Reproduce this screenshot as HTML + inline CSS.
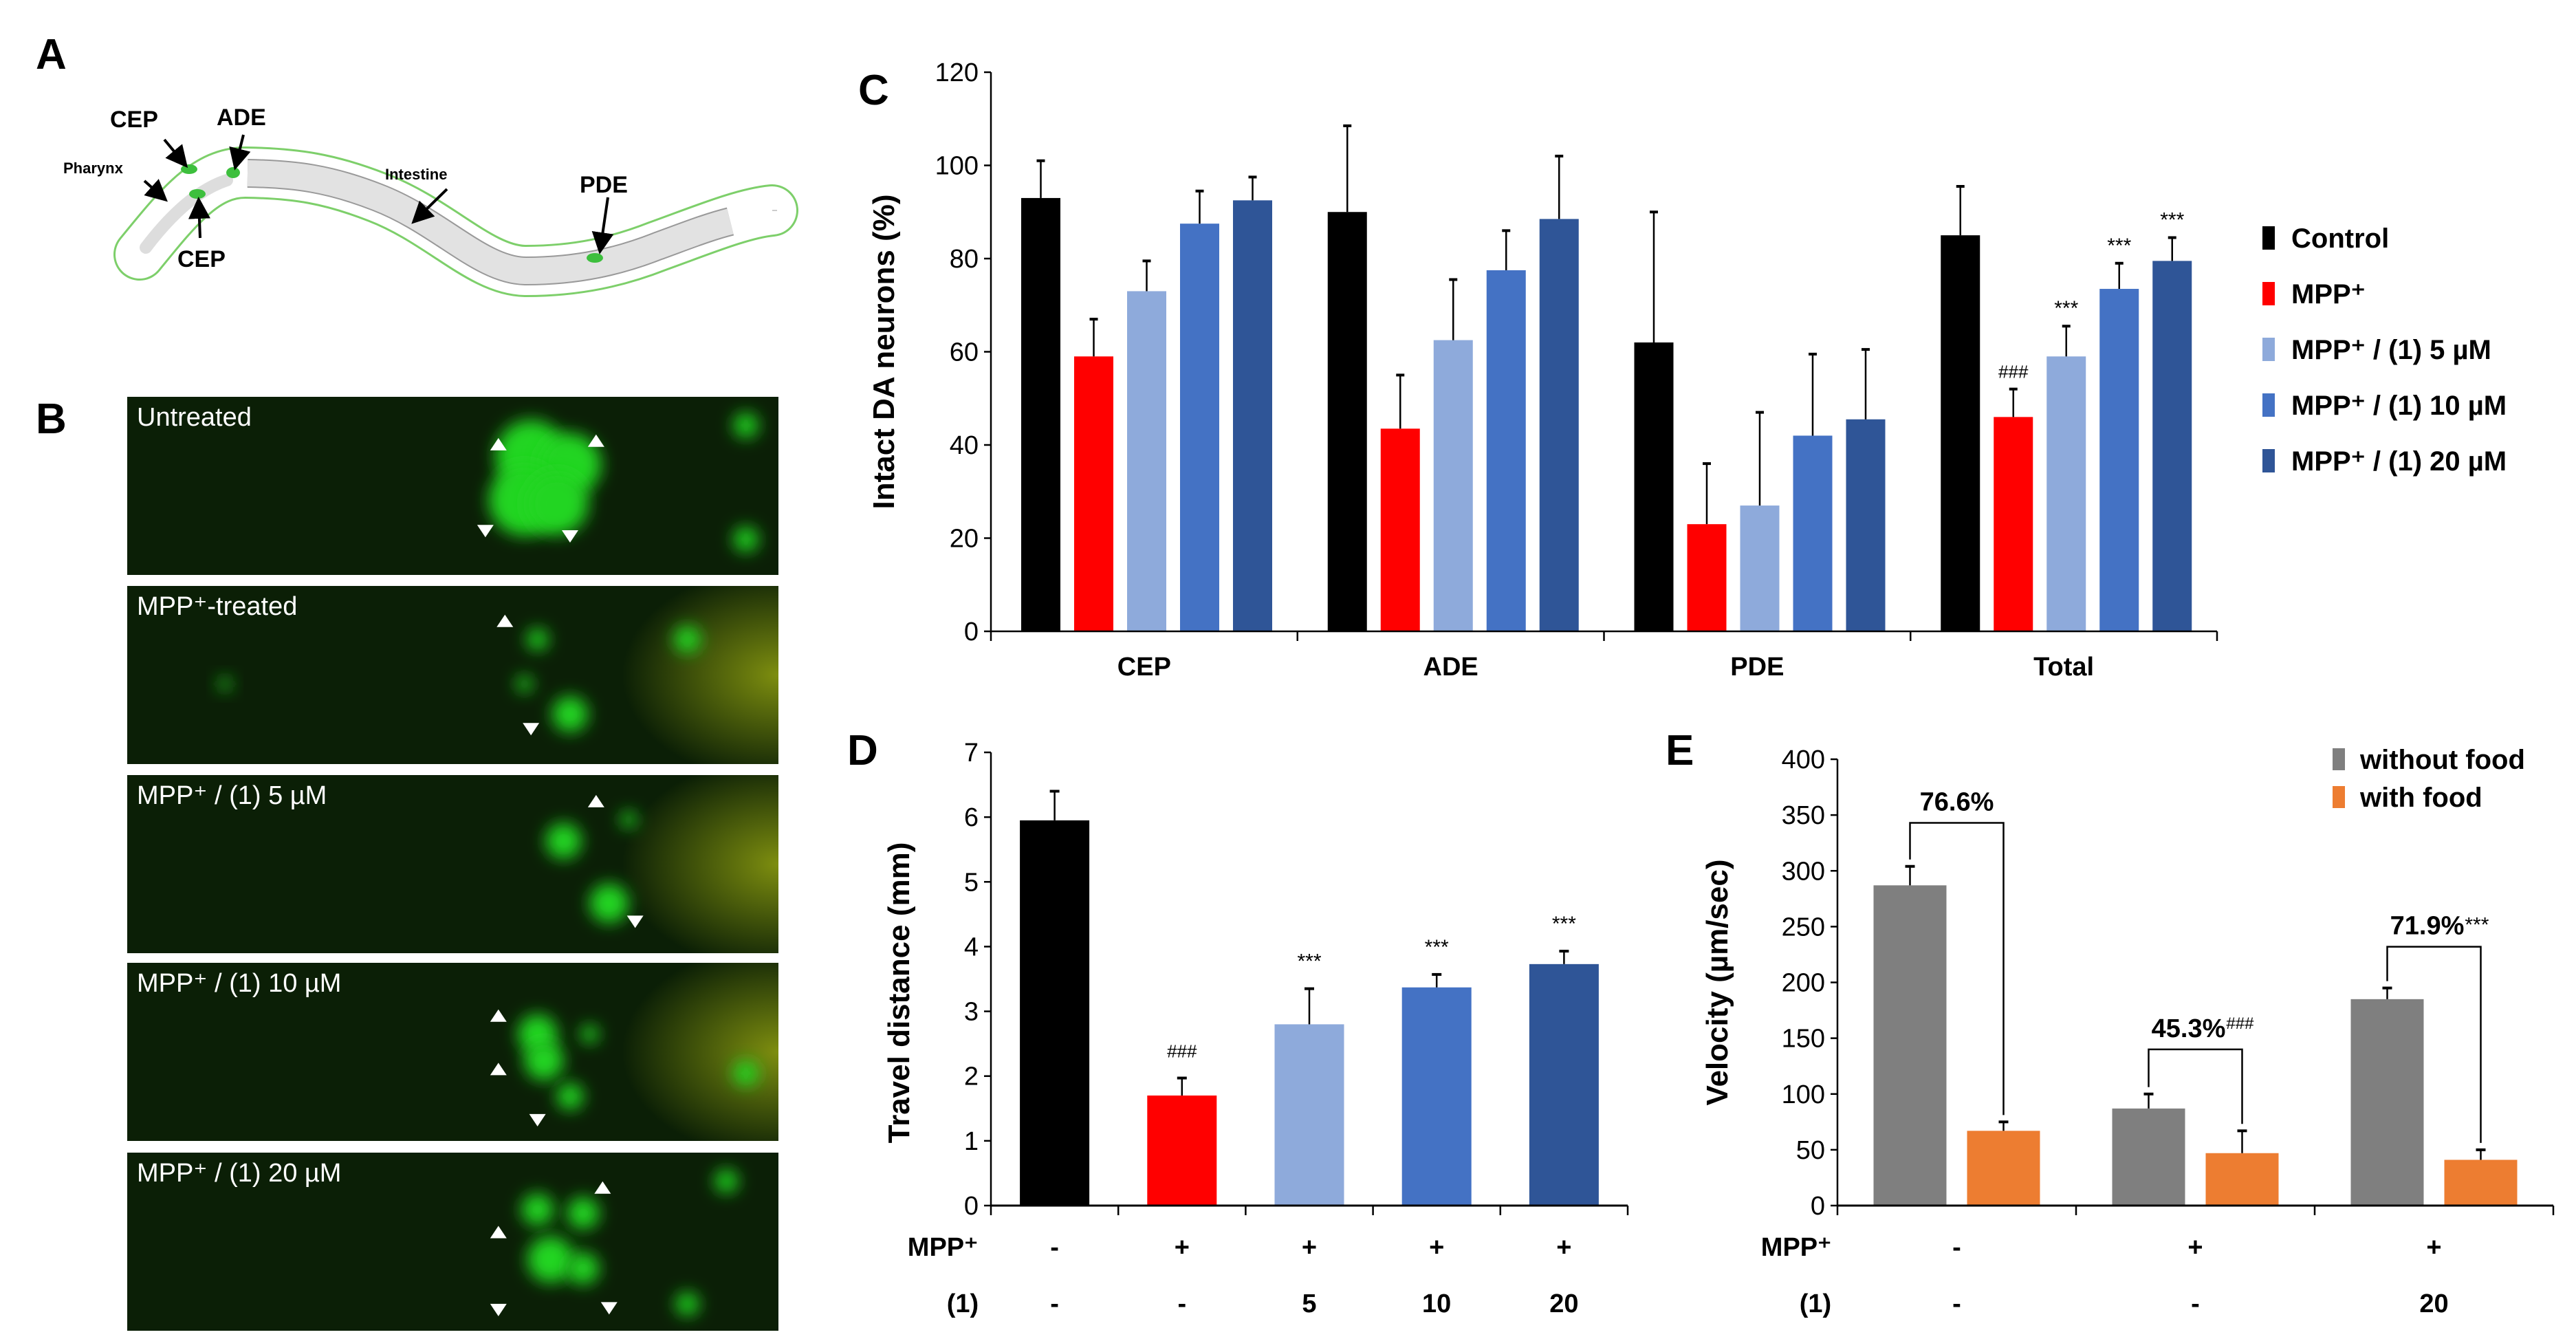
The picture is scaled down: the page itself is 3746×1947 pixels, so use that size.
<!DOCTYPE html>
<html><head><meta charset="utf-8">
<style>
html,body{margin:0;padding:0;background:#fff;}
svg{display:block;}
text{font-family:"Liberation Sans",Arial,sans-serif;}
.nar{font-family:"Liberation Sans Narrow","Liberation Sans",sans-serif;}
</style></head>
<body>
<svg id="fig" width="3746" height="1947" viewBox="0 0 3746 1947" xmlns="http://www.w3.org/2000/svg">
<defs>
<filter id="blur" x="-100%" y="-100%" width="300%" height="300%"><feGaussianBlur stdDeviation="12"/></filter>
<filter id="blur2" x="-50%" y="-50%" width="200%" height="200%"><feGaussianBlur stdDeviation="4"/></filter>
<radialGradient id="yel" cx="1" cy="0.5" r="0.6"><stop offset="0" stop-color="#8a9a10" stop-opacity="0.9"/><stop offset="1" stop-color="#8a9a10" stop-opacity="0"/></radialGradient>
<marker id="ah" markerWidth="8" markerHeight="8" refX="6" refY="4" orient="auto"><path d="M0,0 L8,4 L0,8 z" fill="#000"/></marker>
</defs>

<!-- Panel A -->
<g>
<text x="52" y="100" font-size="62" font-weight="bold">A</text>
<g fill="none">
<path d="M203,370 C260,300 300,250 358,251 C430,252 480,260 549,287 C640,322 700,394 765,394 C840,394 900,380 956,358 C1020,335 1080,310 1123,306" stroke="#7dcf6a" stroke-width="76" stroke-linecap="round"/>
<path d="M203,370 C260,300 300,250 358,251 C430,252 480,260 549,287 C640,322 700,394 765,394 C840,394 900,380 956,358 C1020,335 1080,310 1123,306" stroke="#fff" stroke-width="70" stroke-linecap="round"/>
<path d="M1123,306 L1130,306" stroke="#ccc" stroke-width="2"/>
</g>
<path d="M360,252 C430,253 480,260 549,287 C640,322 700,394 765,394 C840,394 900,380 956,358 C1000,342 1030,330 1062,322" fill="none" stroke="#999" stroke-width="42"/>
<path d="M360,252 C430,253 480,260 549,287 C640,322 700,394 765,394 C840,394 900,380 956,358 C1000,342 1030,330 1062,322" fill="none" stroke="#e2e2e2" stroke-width="38"/>
<path d="M212,360 C250,310 290,275 330,262" fill="none" stroke="#ddd" stroke-width="18" stroke-linecap="round"/>
<g fill="#3dbf3d">
<ellipse cx="275" cy="246" rx="12" ry="7"/>
<ellipse cx="287" cy="282" rx="12" ry="7"/>
<ellipse cx="339" cy="251" rx="10" ry="8"/>
<ellipse cx="865" cy="375" rx="12" ry="7"/>
</g>
<g stroke="#000" stroke-width="4" fill="none" marker-end="url(#ah)">
<line x1="239" y1="203" x2="268" y2="238"/><line x1="210" y1="263" x2="238" y2="288"/><line x1="354" y1="196" x2="343" y2="240"/>
<line x1="291" y1="346" x2="289" y2="294"/><line x1="650" y1="275" x2="604" y2="320"/><line x1="884" y1="287" x2="873" y2="362"/>
</g>
<g font-weight="bold" fill="#000">
<text x="160" y="185" font-size="34">CEP</text>
<text x="315" y="182" font-size="34">ADE</text>
<text x="92" y="252" font-size="22">Pharynx</text>
<text x="258" y="388" font-size="34">CEP</text>
<text x="560" y="261" font-size="22">Intestine</text>
<text x="843" y="280" font-size="34">PDE</text>
</g>
</g>

<!-- Panel B -->
<g id="panelB">
<text x="52" y="630" font-size="62" font-weight="bold">B</text>
</g>

<g id="panelC"></g>
<g id="panelD"></g>
<g id="panelE"></g>
</svg>

<script>
// ---------- Panel C data ----------
const cCategories = ["CEP","ADE","PDE","Total"];
const cSeriesNames = ["Control","MPP\u207A","MPP\u207A / (1) 5 \u00B5M","MPP\u207A / (1) 10 \u00B5M","MPP\u207A / (1) 20 \u00B5M"];
const cControl = [93, 90, 62, 85];
const cMPP = [59, 43.5, 23, 46];
const cDose5 = [73, 62.5, 27, 59];
const cDose10 = [87.5, 77.5, 42, 73.5];
const cDose20 = [92.5, 88.5, 45.5, 79.5];
const cErrControl = [8, 18.5, 28, 10.5];
const cErrMPP = [8, 11.5, 13, 6];
const cErrDose5 = [6.5, 13, 20, 6.5];
const cErrDose10 = [7, 8.5, 17.5, 5.5];
const cErrDose20 = [5, 13.5, 15, 5];
const cTicks = [0,20,40,60,80,100,120];
const cSignif = [["","","","",""],["","","","",""],["","","","",""],["","###","***","***","***"]];

// ---------- Panel D data ----------
const dGroups = ["control","mpp","dose5","dose10","dose20"];
const dValues = [5.95, 1.7, 2.8, 3.37, 3.73];
const dErrors = [0.45, 0.27, 0.55, 0.2, 0.2];
const dTicks = [0,1,2,3,4,5,6,7];
const dMPPRow = ["-","+","+","+","+"];
const dCmpdRow = ["-","-","5","10","20"];
const dSignif = ["","###","***","***","***"];

// ---------- Panel E data ----------
const eGroups = ["control","mpp","mpp-dose20"];
const eWithoutFood = [287, 87, 185];
const eWithFood = [67, 47, 41];
const eErrWithout = [17, 13, 10];
const eErrWith = [8, 20, 9];
const eTicks = [0,50,100,150,200,250,300,350,400];
const eBracketLevel = [343, 140, 232];
const eBracketLabel = ["76.6%","45.3%","71.9%"];
const eBracketSup = ["","###","***"];
const eMPPRow = ["-","+","+"];
const eCmpdRow = ["-","-","20"];

const NS = "http://www.w3.org/2000/svg";
function el(parent, tag, attrs, text){
  const e = document.createElementNS(NS, tag);
  for (const k in attrs) e.setAttribute(k, attrs[k]);
  if (text !== undefined) e.textContent = text;
  parent.appendChild(e);
  return e;
}

// ---------- Panel B micrographs ----------
(function(){
  const g = document.getElementById('panelB');
  const px = 185, pw = 947, ph = 259;
  const tops = [577, 852, 1127, 1400, 1676];
  const titles = ["Untreated","MPP\u207A-treated","MPP\u207A / (1) 5 \u00B5M","MPP\u207A / (1) 10 \u00B5M","MPP\u207A / (1) 20 \u00B5M"];
  const blobs = [
    [[0.62,0.33,40],[0.68,0.38,35],[0.61,0.58,40],[0.66,0.6,35],[0.95,0.16,14],[0.95,0.8,14]],
    [[0.63,0.3,12],[0.68,0.72,20],[0.86,0.3,15],[0.15,0.55,7],[0.61,0.55,9]],
    [[0.67,0.37,20],[0.74,0.72,22],[0.77,0.25,9]],
    [[0.63,0.4,22],[0.64,0.55,22],[0.68,0.75,15],[0.95,0.62,14],[0.71,0.4,10]],
    [[0.63,0.32,18],[0.65,0.6,26],[0.70,0.34,18],[0.70,0.65,18],[0.92,0.16,13],[0.86,0.85,13]]
  ];
  const tris = [
    [[0.57,0.27,0],[0.72,0.25,0],[0.55,0.75,1],[0.68,0.78,1]],
    [[0.58,0.2,0],[0.62,0.8,1]],
    [[0.72,0.15,0],[0.78,0.82,1]],
    [[0.57,0.3,0],[0.57,0.6,0],[0.63,0.88,1]],
    [[0.73,0.2,0],[0.57,0.45,0],[0.57,0.88,1],[0.74,0.87,1]]
  ];
  const glow = [false,true,true,true,false];
  tops.forEach((ty,i)=>{
    const pg = el(g,'g',{});
    
    
    el(pg,'rect',{x:px,y:ty,width:pw,height:ph,fill:'#0b1f06'});
    if (glow[i]) el(pg,'rect',{x:px+pw*0.6,y:ty,width:pw*0.4,height:ph,fill:'url(#yel)'});
    el(pg,'line',{x1:px+60,y1:ty+ph*0.38,x2:px+pw*0.6,y2:ty+ph*0.38,stroke:'#1f6a12','stroke-width':8,filter:'url(#blur2)'});
    el(pg,'line',{x1:px+60,y1:ty+ph*0.6,x2:px+pw*0.6,y2:ty+ph*0.6,stroke:'#1f6a12','stroke-width':8,filter:'url(#blur2)'});
    blobs[i].forEach(b=>{
      el(pg,'circle',{cx:px+b[0]*pw,cy:ty+b[1]*ph,r:b[2]*1.3,fill:'#22d522',filter:'url(#blur)'});
    });
    tris[i].forEach(t=>{
      const x=px+t[0]*pw, y=ty+t[1]*ph;
      const d = t[2]? `M${x-12},${y-8} L${x+12},${y-8} L${x},${y+10}z` : `M${x-12},${y+8} L${x+12},${y+8} L${x},${y-10}z`;
      el(pg,'path',{d:d,fill:'#fff'});
    });
    const tt = el(pg,'text',{x:px+14,y:ty+42,'font-size':38,fill:'#fff'},titles[i]);
    
    
  });
})();

// ---------- Panel C ----------
(function(){
  const g = document.getElementById('panelC');
  const x0 = 1441, x1 = 3224, yBase = 918, yTop = 105, vmax = 120;
  const y = v => yBase - v/vmax*(yBase-yTop);
  const groupW = (x1-x0)/cCategories.length;
  const barW = 57, step = 77, off = 44;
  const colors = ["#000000","#ff0000","#8eaadb","#4472c4","#2f5597"];
  const series = [cControl,cMPP,cDose5,cDose10,cDose20];
  const errs = [cErrControl,cErrMPP,cErrDose5,cErrDose10,cErrDose20];
  const letter = el(g,'text',{x:1248,y:152,'font-size':62,'font-weight':'bold'},'C');
  
  
  cTicks.forEach(t=>{
    el(g,'line',{x1:x0-10,y1:y(t),x2:x0,y2:y(t),stroke:'#000','stroke-width':2.5});
    const tl = el(g,'text',{x:x0-18,y:y(t)+13,'font-size':38,'text-anchor':'end',class:'nar'},t);
    
    
  });
  cCategories.forEach((c,ci)=>{
    const gx = x0 + ci*groupW;
    series.forEach((s,si)=>{
      const bx = gx + off + si*step;
      const r = el(g,'rect',{x:bx,y:y(s[ci]),width:barW,height:yBase-y(s[ci]),fill:colors[si]});
      
      
      const cx = bx+barW/2, et = y(s[ci]+errs[si][ci]);
      el(g,'line',{x1:cx,y1:y(s[ci]),x2:cx,y2:et,stroke:'#000','stroke-width':2.5});
      el(g,'line',{x1:cx-6,y1:et,x2:cx+6,y2:et,stroke:'#000','stroke-width':4});
      const sg = cSignif[ci][si];
      if (sg) {
        const st = el(g,'text',{x:cx,y:et-16,'font-size':sg==='###'?26:30,'text-anchor':'middle',class:'nar'},sg);
        
        
      }
    });
    el(g,'line',{x1:gx,y1:yBase,x2:gx,y2:yBase+14,stroke:'#000','stroke-width':2.5});
    const cl = el(g,'text',{x:gx+groupW/2,y:982,'font-size':38,'font-weight':'bold','text-anchor':'middle',class:'nar'},c);
    
    
  });
  el(g,'line',{x1:x1,y1:yBase,x2:x1,y2:yBase+14,stroke:'#000','stroke-width':2.5});
  el(g,'line',{x1:x0,y1:yTop,x2:x0,y2:yBase,stroke:'#000','stroke-width':2.5});
  el(g,'line',{x1:x0,y1:yBase,x2:x1,y2:yBase,stroke:'#000','stroke-width':2.5});
  const yt = el(g,'text',{x:0,y:0,'font-size':44,'font-weight':'bold','text-anchor':'middle',transform:`translate(1300,${(yTop+yBase)/2}) rotate(-90)`},'Intact DA neurons (%)');
  
  
  cSeriesNames.forEach((n,i)=>{
    const ly = 346 + i*81;
    const lg = el(g,'g',{});
    
    
    el(lg,'rect',{x:3290,y:ly-17,width:18,height:34,fill:colors[i]});
    el(lg,'text',{x:3332,y:ly+14,'font-size':40,'font-weight':'bold',class:'nar'},n);
  });
})();

// ---------- Panel D ----------
(function(){
  const g = document.getElementById('panelD');
  const x0 = 1441, x1 = 2367, yBase = 1753, yTop = 1094, vmax = 7;
  const y = v => yBase - v/vmax*(yBase-yTop);
  const gw = (x1-x0)/dGroups.length, bw = 101;
  const colors = ["#000000","#ff0000","#8eaadb","#4472c4","#2f5597"];
  const letter = el(g,'text',{x:1232,y:1112,'font-size':62,'font-weight':'bold'},'D');
  
  
  dTicks.forEach(t=>{
    el(g,'line',{x1:x0-10,y1:y(t),x2:x0,y2:y(t),stroke:'#000','stroke-width':2.5});
    const tl = el(g,'text',{x:x0-18,y:y(t)+13,'font-size':38,'text-anchor':'end',class:'nar'},t);
    
    
  });
  dGroups.forEach((k,i)=>{
    const cx = x0 + gw*(i+0.5);
    const r = el(g,'rect',{x:cx-bw/2,y:y(dValues[i]),width:bw,height:yBase-y(dValues[i]),fill:colors[i]});
    
    
    const et = y(dValues[i]+dErrors[i]);
    el(g,'line',{x1:cx,y1:y(dValues[i]),x2:cx,y2:et,stroke:'#000','stroke-width':2.5});
    el(g,'line',{x1:cx-7,y1:et,x2:cx+7,y2:et,stroke:'#000','stroke-width':4});
    if (dSignif[i]) {
      const st = el(g,'text',{x:cx,y:et-30,'font-size':dSignif[i]==='###'?26:30,'text-anchor':'middle',class:'nar'},dSignif[i]);
      
      
    }
    el(g,'line',{x1:x0+gw*i,y1:yBase,x2:x0+gw*i,y2:yBase+14,stroke:'#000','stroke-width':2.5});
    const m = el(g,'text',{x:cx,y:1826,'font-size':38,'font-weight':'bold','text-anchor':'middle',class:'nar'},dMPPRow[i]);
    
    
    const c = el(g,'text',{x:cx,y:1908,'font-size':38,'font-weight':'bold','text-anchor':'middle',class:'nar'},dCmpdRow[i]);
    
    
  });
  el(g,'line',{x1:x1,y1:yBase,x2:x1,y2:yBase+14,stroke:'#000','stroke-width':2.5});
  el(g,'line',{x1:x0,y1:yTop,x2:x0,y2:yBase,stroke:'#000','stroke-width':2.5});
  el(g,'line',{x1:x0,y1:yBase,x2:x1,y2:yBase,stroke:'#000','stroke-width':3});
  const l1 = el(g,'text',{x:1371,y:1826,'font-size':38,'font-weight':'bold','text-anchor':'middle',class:'nar'},'MPP\u207A');
  
  
  const l2 = el(g,'text',{x:1400,y:1908,'font-size':38,'font-weight':'bold','text-anchor':'middle',class:'nar'},'(1)');
  
  
  const yt = el(g,'text',{x:0,y:0,'font-size':44,'font-weight':'bold','text-anchor':'middle',transform:`translate(1322,${(yTop+yBase)/2+20}) rotate(-90)`},'Travel distance (mm)');
  
  
})();

// ---------- Panel E ----------
(function(){
  const g = document.getElementById('panelE');
  const x0 = 2672, x1 = 3713, yBase = 1753, yTop = 1104, vmax = 400;
  const y = v => yBase - v/vmax*(yBase-yTop);
  const gw = (x1-x0)/eGroups.length, bw = 106, gap = 136;
  const gray = "#7f7f7f", orange = "#ed7d31";
  const letter = el(g,'text',{x:2422,y:1112,'font-size':62,'font-weight':'bold'},'E');
  
  
  eTicks.forEach(t=>{
    el(g,'line',{x1:x0-10,y1:y(t),x2:x0,y2:y(t),stroke:'#000','stroke-width':2.5});
    const tl = el(g,'text',{x:x0-18,y:y(t)+13,'font-size':38,'text-anchor':'end',class:'nar'},t);
    
    
  });
  eGroups.forEach((k,i)=>{
    const gc = x0 + gw*(i+0.5);
    const c1 = gc - gap/2, c2 = gc + gap/2;
    const r1 = el(g,'rect',{x:c1-bw/2,y:y(eWithoutFood[i]),width:bw,height:yBase-y(eWithoutFood[i]),fill:gray});
    
    
    const r2 = el(g,'rect',{x:c2-bw/2,y:y(eWithFood[i]),width:bw,height:yBase-y(eWithFood[i]),fill:orange});
    
    
    const e1 = y(eWithoutFood[i]+eErrWithout[i]), e2 = y(eWithFood[i]+eErrWith[i]);
    el(g,'line',{x1:c1,y1:y(eWithoutFood[i]),x2:c1,y2:e1,stroke:'#000','stroke-width':2.5});
    el(g,'line',{x1:c1-7,y1:e1,x2:c1+7,y2:e1,stroke:'#000','stroke-width':4});
    el(g,'line',{x1:c2,y1:y(eWithFood[i]),x2:c2,y2:e2,stroke:'#000','stroke-width':2.5});
    el(g,'line',{x1:c2-7,y1:e2,x2:c2+7,y2:e2,stroke:'#000','stroke-width':4});
    const by = y(eBracketLevel[i]);
    const br = el(g,'path',{d:`M${c1},${e1-10} L${c1},${by} L${c2},${by} L${c2},${e2-10}`,fill:'none',stroke:'#000','stroke-width':2.5});
    
    
    const bl = el(g,'text',{x:gc+(eBracketSup[i]?-10:0),y:by-18,'font-size':38,'font-weight':'bold','text-anchor':'middle',class:'nar'},eBracketLabel[i]);
    
    
    if (eBracketSup[i]) {
      const bb = bl.getBBox();
      const sp = el(g,'text',{x:bb.x+bb.width+1,y:by-(eBracketSup[i]==='###'?30:22),'font-size':eBracketSup[i]==='###'?24:30,class:'nar'},eBracketSup[i]);
      
      
    }
    el(g,'line',{x1:x0+gw*i,y1:yBase,x2:x0+gw*i,y2:yBase+14,stroke:'#000','stroke-width':2.5});
    const m = el(g,'text',{x:gc,y:1826,'font-size':38,'font-weight':'bold','text-anchor':'middle',class:'nar'},eMPPRow[i]);
    
    
    const c = el(g,'text',{x:gc,y:1908,'font-size':38,'font-weight':'bold','text-anchor':'middle',class:'nar'},eCmpdRow[i]);
    
    
  });
  el(g,'line',{x1:x1,y1:yBase,x2:x1,y2:yBase+14,stroke:'#000','stroke-width':2.5});
  el(g,'line',{x1:x0,y1:yTop,x2:x0,y2:yBase,stroke:'#000','stroke-width':2.5});
  el(g,'line',{x1:x0,y1:yBase,x2:x1,y2:yBase,stroke:'#000','stroke-width':3});
  const l1 = el(g,'text',{x:2612,y:1826,'font-size':38,'font-weight':'bold','text-anchor':'middle',class:'nar'},'MPP\u207A');
  
  
  const l2 = el(g,'text',{x:2640,y:1908,'font-size':38,'font-weight':'bold','text-anchor':'middle',class:'nar'},'(1)');
  
  
  const yt = el(g,'text',{x:0,y:0,'font-size':44,'font-weight':'bold','text-anchor':'middle',transform:`translate(2512,${(yTop+yBase)/2}) rotate(-90)`},'Velocity (\u00B5m/sec)');
  
  
  [["without food",gray,1104],["with food",orange,1159]].forEach((it,i)=>{
    const lg = el(g,'g',{});
    
    
    el(lg,'rect',{x:3392,y:it[2]-16,width:18,height:32,fill:it[1]});
    el(lg,'text',{x:3432,y:it[2]+14,'font-size':40,'font-weight':'bold',class:'nar'},it[0]);
  });
})();
</script>
</body></html>
